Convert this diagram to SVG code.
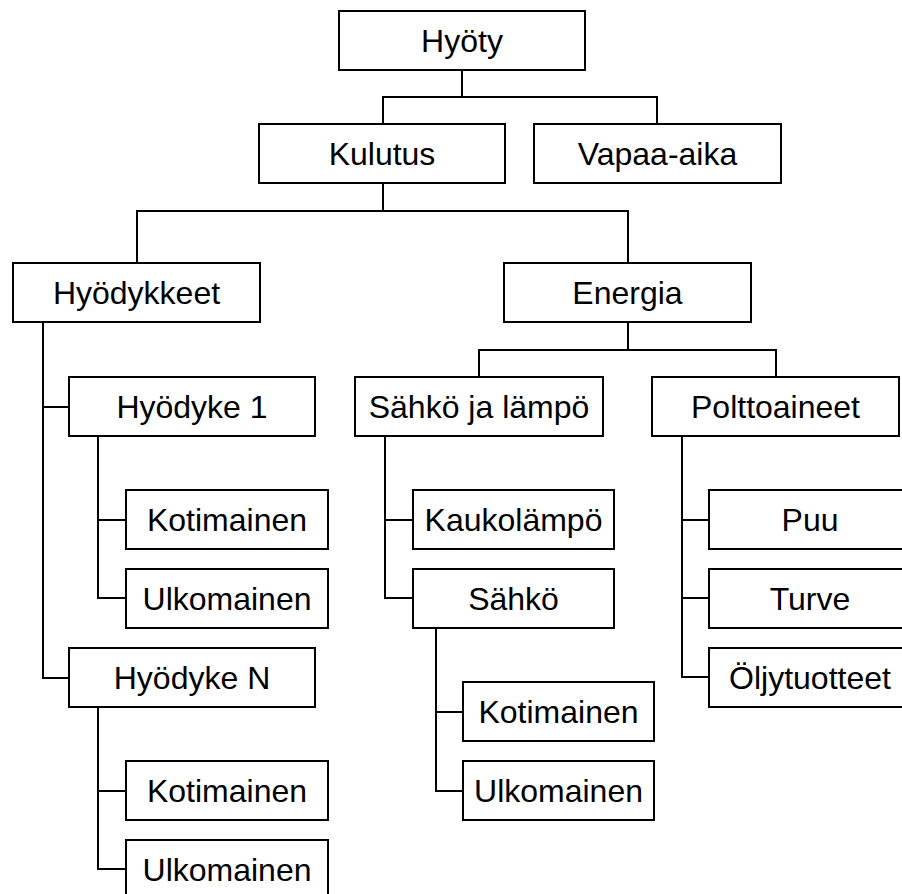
<svg xmlns="http://www.w3.org/2000/svg" width="902" height="894" viewBox="0 0 902 894">
  <style>
    .box { fill: #ffffff; stroke: #000000; stroke-width: 2; }
    .lbl { font-family: "Liberation Sans", Arial, sans-serif; font-size: 32px; fill: #000000; text-anchor: middle; }
    .wire { fill: none; stroke: #000000; stroke-width: 2; stroke-linejoin: miter; }
  </style>
  <rect x="0" y="0" width="902" height="894" fill="#ffffff"/>

  <!-- connectors -->
  <g id="connectors" class="wire">
    <!-- Hyöty -> Kulutus, Vapaa-aika -->
    <path d="M462 71 V97 M383 123 V97 H657 V123"/>
    <!-- Kulutus -> Hyödykkeet, Energia -->
    <path d="M383 184 V211 M137 262 V211 H628 V262"/>
    <!-- Hyödykkeet -> Hyödyke 1, Hyödyke N -->
    <path d="M43 323 V678 H68 M43 407 H68"/>
    <!-- Hyödyke 1 -> Kotimainen, Ulkomainen -->
    <path d="M98 437 V598 H125 M98 520 H125"/>
    <!-- Hyödyke N -> Kotimainen, Ulkomainen -->
    <path d="M98 708 V869 H125 M98 791 H125"/>
    <!-- Energia -> Sähkö ja lämpö, Polttoaineet -->
    <path d="M628 323 V350 M479 376 V350 H776 V376"/>
    <!-- Sähkö ja lämpö -> Kaukolämpö, Sähkö -->
    <path d="M385 437 V598 H412 M385 520 H412"/>
    <!-- Sähkö -> Kotimainen, Ulkomainen -->
    <path d="M436 629 V791 H462 M436 712 H462"/>
    <!-- Polttoaineet -> Puu, Turve, Öljytuotteet -->
    <path d="M682 437 V677 H708 M682 520 H708 M682 598 H708"/>
  </g>

  <g id="hyoty">
    <rect class="box" x="339" y="11" width="246" height="59"/>
    <text class="lbl" x="462" y="52">Hyöty</text>
  </g>
  <g id="kulutus">
    <rect class="box" x="259" y="124" width="246" height="59"/>
    <text class="lbl" x="382" y="165">Kulutus</text>
  </g>
  <g id="vapaa-aika">
    <rect class="box" x="534" y="124" width="247" height="59"/>
    <text class="lbl" x="657.5" y="165">Vapaa-aika</text>
  </g>
  <g id="hyodykkeet">
    <rect class="box" x="13" y="263" width="247" height="59"/>
    <text class="lbl" x="136.5" y="304">Hyödykkeet</text>
  </g>
  <g id="energia">
    <rect class="box" x="504" y="263" width="247" height="59"/>
    <text class="lbl" x="627.5" y="304">Energia</text>
  </g>
  <g id="hyodyke-1">
    <rect class="box" x="69" y="377" width="246" height="59"/>
    <text class="lbl" x="192" y="418">Hyödyke 1</text>
  </g>
  <g id="sahko-ja-lampo">
    <rect class="box" x="355" y="377" width="248" height="59"/>
    <text class="lbl" x="479" y="418">Sähkö ja lämpö</text>
  </g>
  <g id="polttoaineet">
    <rect class="box" x="652" y="377" width="247" height="59"/>
    <text class="lbl" x="775.5" y="418">Polttoaineet</text>
  </g>
  <g id="kotimainen-1">
    <rect class="box" x="126" y="490" width="202" height="59"/>
    <text class="lbl" x="227" y="531">Kotimainen</text>
  </g>
  <g id="ulkomainen-1">
    <rect class="box" x="126" y="569" width="202" height="59"/>
    <text class="lbl" x="227" y="610">Ulkomainen</text>
  </g>
  <g id="hyodyke-n">
    <rect class="box" x="69" y="648" width="246" height="59"/>
    <text class="lbl" x="192" y="689">Hyödyke N</text>
  </g>
  <g id="kotimainen-n">
    <rect class="box" x="126" y="761" width="202" height="59"/>
    <text class="lbl" x="227" y="802">Kotimainen</text>
  </g>
  <g id="ulkomainen-n">
    <rect class="box" x="126" y="840" width="202" height="59"/>
    <text class="lbl" x="227" y="881">Ulkomainen</text>
  </g>
  <g id="kaukolampo">
    <rect class="box" x="413" y="490" width="201" height="59"/>
    <text class="lbl" x="513.5" y="531">Kaukolämpö</text>
  </g>
  <g id="sahko">
    <rect class="box" x="413" y="569" width="201" height="59"/>
    <text class="lbl" x="513.5" y="610">Sähkö</text>
  </g>
  <g id="kotimainen-s">
    <rect class="box" x="463" y="682" width="191" height="59"/>
    <text class="lbl" x="558.5" y="723">Kotimainen</text>
  </g>
  <g id="ulkomainen-s">
    <rect class="box" x="463" y="761" width="191" height="59"/>
    <text class="lbl" x="558.5" y="802">Ulkomainen</text>
  </g>
  <g id="puu">
    <rect class="box" x="709" y="490" width="202" height="59"/>
    <text class="lbl" x="810" y="531">Puu</text>
  </g>
  <g id="turve">
    <rect class="box" x="709" y="569" width="202" height="59"/>
    <text class="lbl" x="810" y="610">Turve</text>
  </g>
  <g id="oljytuotteet">
    <rect class="box" x="709" y="648" width="202" height="59"/>
    <text class="lbl" x="810" y="689">Öljytuotteet</text>
  </g>
</svg>
